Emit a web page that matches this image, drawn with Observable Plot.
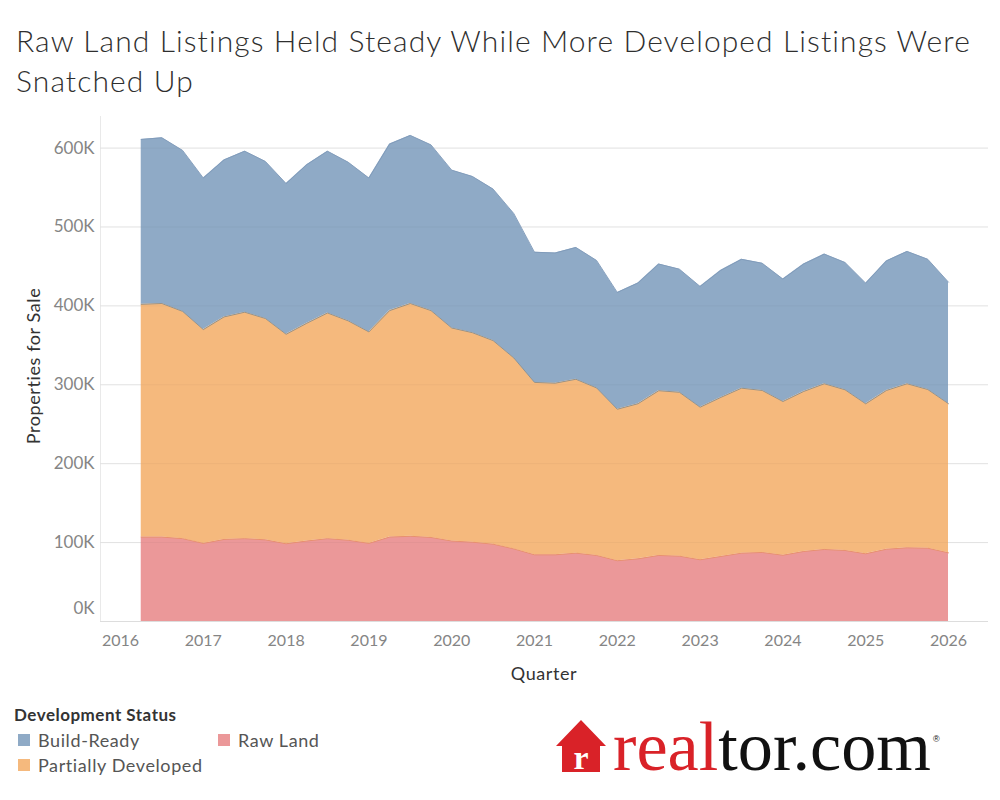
<!DOCTYPE html>
<html>
<head>
<meta charset="utf-8">
<script src="https://cdn.jsdelivr.net/npm/d3@7"></script>
<script src="https://cdn.jsdelivr.net/npm/@observablehq/plot@0.6"></script>
<style>
  html, body { margin: 0; padding: 0; background: #fff; }
  body { width: 1000px; height: 800px; position: relative; overflow: hidden; font-family: Lato, "Open Sans", sans-serif; }
  #title { position: absolute; left: 16px; top: 20px; font-size: 30px; line-height: 40px; font-weight: 300; color: #2f2f2f; white-space: nowrap; letter-spacing: 1.1px; }
  #chart { position: absolute; left: 0; top: 110px; }
  .axis-title { position: absolute; font-size: 18px; color: #333; white-space: nowrap; letter-spacing: 0.6px; }
  #ytitle { left: 33px; top: 366px; transform: translate(-50%, -50%) rotate(-90deg); }
  #xtitle { left: 544px; top: 673px; transform: translate(-50%, -50%); }
  #legend { position: absolute; left: 14px; top: 704px; color: #333; }
  #legend .head { position: absolute; left: 0; top: 0; font-size: 17px; font-weight: 700; white-space: nowrap; color: #333; letter-spacing: 0.5px; }
  .item { position: absolute; font-size: 18px; color: #555; white-space: nowrap; display: flex; align-items: center; letter-spacing: 0.6px; }
  .sw { width: 12px; height: 12px; margin-right: 8px; display: inline-block; }
  #logo { position: absolute; left: 0; top: 0; }
</style>
</head>
<body>
<div id="title">Raw Land Listings Held Steady While More Developed Listings Were<br>Snatched Up</div>
<div id="chart"></div>
<div class="axis-title" id="ytitle">Properties for Sale</div>
<div class="axis-title" id="xtitle">Quarter</div>
<div id="legend"></div>
<svg id="logo" width="1000" height="800" style="pointer-events:none">
  <polygon points="556,746 581,720 606,746 600,746 600,772 562,772 562,746" fill="#d92228"/>
  <text x="581" y="769" text-anchor="middle" font-family="Liberation Serif, DejaVu Serif, serif" font-weight="700" font-size="34" fill="#fff">r</text>
  <text x="613" y="770" font-family="Liberation Serif, DejaVu Serif, serif" font-size="70" textLength="318" lengthAdjust="spacingAndGlyphs"><tspan fill="#d92228">real</tspan><tspan fill="#111">tor.com</tspan></text>
  <text x="933" y="742" font-family="Liberation Sans, sans-serif" font-size="9" fill="#111">®</text>
</svg>
<script>
// Quarters (categories)
const quarters = [
  "2016 Q2","2016 Q3","2016 Q4",
  "2017 Q1","2017 Q2","2017 Q3","2017 Q4",
  "2018 Q1","2018 Q2","2018 Q3","2018 Q4",
  "2019 Q1","2019 Q2","2019 Q3","2019 Q4",
  "2020 Q1","2020 Q2","2020 Q3","2020 Q4",
  "2021 Q1","2021 Q2","2021 Q3","2021 Q4",
  "2022 Q1","2022 Q2","2022 Q3","2022 Q4",
  "2023 Q1","2023 Q2","2023 Q3","2023 Q4",
  "2024 Q1","2024 Q2","2024 Q3","2024 Q4",
  "2025 Q1","2025 Q2","2025 Q3","2025 Q4",
  "2026 Q1"
];
// Series values (thousands of properties for sale)
const rawLand = [107,107,105,99,104,105,103.5,98.5,102,105,103,99,107,108,106.5,102,100.5,98,92,84.5,84.5,86.6,83.7,77,79.4,83.7,82.8,78.2,82.4,86.6,87.5,84,88.7,91.3,90,85.8,91.6,93.4,92.9,87];
const partiallyDeveloped = [295,296,288,271,282,287,280.5,265.5,276,286,278,268,287,295,287.5,270,265.5,258,242,218.5,217.5,220.4,212.3,192,196.6,208.8,207.7,193.4,201.6,209.1,205.3,194.8,202.8,210,203.7,190.1,201.2,207.9,201.1,189];
const buildReady = [209,210,204,192,199,204,199,191,201,205,201,195,211,213,210,200,198,192,183,165,165,167,161.5,148,153,160.5,156,153,161,163.3,161.2,155.2,161.5,164.3,161.3,152.9,164.2,167.7,165,154];

const statuses = ["Raw Land", "Partially Developed", "Build-Ready"];
const fills = ["#eb9899", "#f5b97d", "#8faac6"];
const edgeStrokes = ["#e8906a", "#8d8d88", "#7f9ab9"];
const legendOrder = ["Build-Ready", "Partially Developed", "Raw Land"];
const yearTicks = [2016,2017,2018,2019,2020,2021,2022,2023,2024,2025,2026];
const yTicks = [0,100000,200000,300000,400000,500000,600000];

const seriesValues = {"Raw Land": rawLand, "Partially Developed": partiallyDeveloped, "Build-Ready": buildReady};
const qToYear = q => { const [y, qq] = q.split(" Q"); return +y + (+qq - 1) / 4; };
const data = [];
for (const s of statuses) {
  seriesValues[s].forEach((v, i) => data.push({quarter: qToYear(quarters[i]), status: s, value: v * 1000}));
}
const strokeOf = Object.fromEntries(statuses.map((s, i) => [s, edgeStrokes[i]]));

const chart = Plot.plot({
  width: 1000,
  height: 580,
  marginLeft: 100,
  marginRight: 12,
  marginTop: 6,
  marginBottom: 69,
  style: {fontFamily: "Lato, 'Open Sans', sans-serif", fontSize: "16px", color: "#858585", background: "transparent"},
  x: {domain: [2015.758, 2026.483]},
  y: {domain: [0, 640000]},
  color: {domain: statuses, range: fills},
  marks: [
    Plot.gridY(yTicks, {stroke: "#e9e9e9", strokeOpacity: 1}),
    Plot.frame({anchor: "left", stroke: "#e9e9e9"}),
    Plot.areaY(data, Plot.stackY({x: "quarter", y: "value", z: "status", fill: "status", order: statuses})),
    Plot.gridY(yTicks.slice(1), {stroke: "#000", strokeOpacity: 0.035}),
    Plot.lineY(data, Plot.stackY2({x: "quarter", y: "value", z: "status", order: statuses, stroke: d => strokeOf[d.status], strokeWidth: 0.9})),
    Plot.ruleY([0], {stroke: "#dddddd"}),
    Plot.axisX({ticks: yearTicks, tickSize: 0, tickPadding: 13, tickFormat: d => String(d), label: null, fontSize: 16, fill: "#858585"}),
    Plot.axisY({ticks: yTicks.slice(1), tickSize: 0, tickPadding: 6, tickFormat: d => d / 1000 + "K", label: null, fontSize: 17, fill: "#858585"}),
    Plot.axisY({ticks: [0], tickSize: 0, tickPadding: 6, tickFormat: d => d / 1000 + "K", label: null, fontSize: 17, fill: "#858585", dy: -13})
  ]
});
document.getElementById("chart").appendChild(chart);

// Legend
const legend = document.getElementById("legend");
legend.innerHTML = '<div class="head">Development Status</div>';
const positions = {"Build-Ready": [4, 25], "Raw Land": [204, 25], "Partially Developed": [4, 50]};
for (const s of legendOrder) {
  const el = document.createElement("div");
  el.className = "item";
  el.style.left = positions[s][0] + "px";
  el.style.top = positions[s][1] + "px";
  el.innerHTML = `<span class="sw" style="background:${fills[statuses.indexOf(s)]}"></span>${s}`;
  legend.appendChild(el);
}
</script>
</body>
</html>
